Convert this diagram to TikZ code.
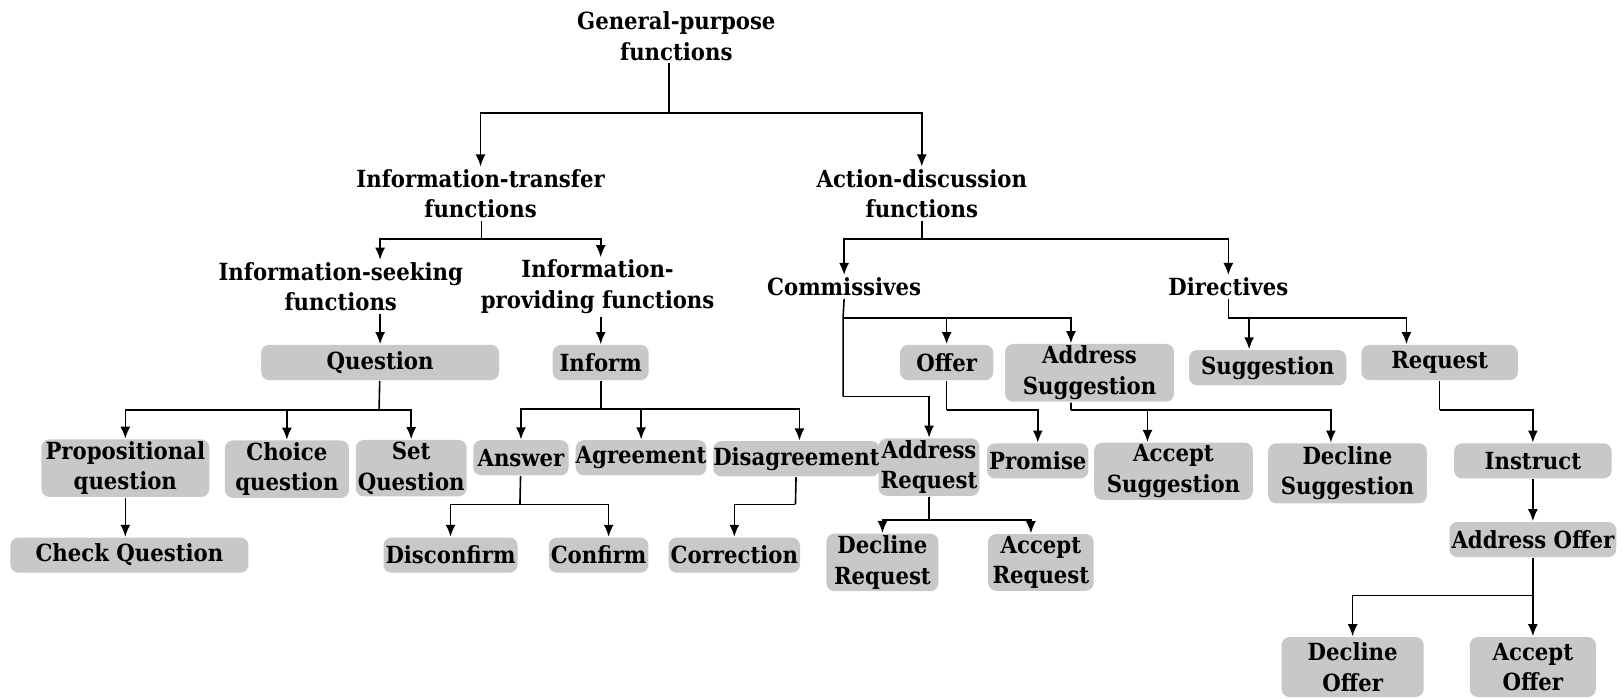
\documentclass[tikz,border=0pt]{standalone}
\usepackage{fontspec}
\setmainfont{DejaVu Serif Condensed}
\usetikzlibrary{arrows.meta}
\definecolor{boxgray}{RGB}{200,200,200}
\tikzset{
    lbl/.style={align=center, inner sep=1pt, font=\fontsize{11.8pt}{15.3pt}\selectfont\bfseries},
    gbox/.style={lbl, fill=boxgray, rounded corners=4pt, minimum height=17.6pt},
    >={Latex[length=6pt,width=5pt]},
}
\begin{document}
\begin{tikzpicture}[x=0.5179pt, y=-0.5179pt, line width=0.8pt]
        \useasboundingbox (0,0) rectangle (1568,674);
        % plain labels
        \node[lbl] (gp) at (653,35) {General-purpose\\functions};
        \node[lbl] (it) at (464,187) {Information-transfer\\functions};
        \node[lbl] (ad) at (890,187) {Action-discussion\\functions};
        \node[lbl] (is) at (329,277) {Information-seeking\\functions};
        \node[lbl] (ip) at (577,277) {Information-\\providing functions};
        \node[lbl] (com) at (815,277) {Commissives};
        \node[lbl] (dir) at (1186,277) {Directives};
        % grey boxes
        \node[gbox, minimum width=119pt] (question) at (367,350) {Question};
        \node[gbox, minimum width=48pt] (inform) at (580,350) {Inform};
        \node[gbox, minimum width=46.6pt] (offer) at (914,350) {Offer};
        \node[gbox, minimum width=84.4pt, minimum height=28.5pt] (addsug) at (1052,360) {Address\\Suggestion};
        \node[gbox, minimum width=78.7pt] (sugg) at (1224,355) {Suggestion};
        \node[gbox, minimum width=78.2pt] (request) at (1390,350) {Request};
        \node[gbox, minimum width=84pt, minimum height=26.4pt] (prop) at (121,452) {Propositional\\question};
        \node[gbox, minimum width=62pt, minimum height=27pt] (choice) at (277,453) {Choice\\question};
        \node[gbox, minimum width=46.6pt, minimum height=26.4pt] (setq) at (397,452) {Set\\Question};
        \node[gbox, minimum width=119pt] (checkq) at (125,536) {Check Question};
        \node[gbox, minimum width=47.7pt] (answer) at (503,442) {Answer};
        \node[gbox, minimum width=64pt, inner xsep=0pt] (agree) at (619,442) {Agreement};
        \node[gbox, minimum width=77pt, inner xsep=0pt] (disagree) at (769,443) {Disagreement};
        \node[gbox, minimum width=64.8pt] (disconf) at (435,536) {Disconfirm};
        \node[gbox, minimum width=48pt] (confirm) at (578,536) {Confirm};
        \node[gbox, minimum width=65pt] (correct) at (709,536) {Correction};
        \node[gbox, minimum width=45.6pt, minimum height=26.4pt] (addreq) at (897,451) {Address\\Request};
        \node[gbox, minimum width=48.7pt] (promise) at (1002,445) {Promise};
        \node[gbox, minimum width=79.3pt, minimum height=26pt] (accsug) at (1133,455) {Accept\\Suggestion};
        \node[gbox, minimum width=79.3pt, minimum height=30pt] (decsug) at (1301,457) {Decline\\Suggestion};
        \node[gbox, minimum width=78.7pt] (instruct) at (1480,445) {Instruct};
        \node[gbox, minimum width=78.7pt] (addoffer) at (1480,521) {Address Offer};
        \node[gbox, minimum width=56pt, minimum height=26pt] (decreq) at (852,543) {Decline\\Request};
        \node[gbox, minimum width=52.8pt, minimum height=26pt] (accreq) at (1005,543) {Accept\\Request};
        \node[gbox, minimum width=71pt, minimum height=30pt] (decoff) at (1306,644) {Decline\\Offer};
        \node[gbox, minimum width=63pt, minimum height=30pt] (accoff) at (1480,644) {Accept\\Offer};
        % top levels
        \coordinate (gpj) at (646,109);
        \draw (gp.south -| gpj) -- (gpj);
        \draw[->] (gpj) -| (it);
        \draw[->] (gpj) -| (ad);
        \coordinate (itj) at (465,231);
        \draw (it.south -| itj) -- (itj);
        \draw[->] (itj) -| (is.north -| question);
        \draw[->] (itj) -| (ip.north -| inform);
        \draw[->] (is.south -| question) -- (question);
        \draw[->] (ip.south -| inform) -- (inform);
        \coordinate (adj) at (890,231);
        \draw (ad.south) -- (adj);
        \draw[->] (adj) -| (com);
        \draw[->] (adj) -| (dir);
        % information-transfer side
        \coordinate (qj) at (366,396);
        \draw (question) -- (qj);
        \draw[->] (qj) -| (prop);
        \draw[->] (qj) -| (choice);
        \draw[->] (qj) -| (setq);
        \draw[->] (prop.south) -- (prop.south |- checkq.north);
        \coordinate (infj) at (580,395);
        \draw (inform) -- (infj);
        \draw[->] (infj) -| (answer);
        \draw[->] (infj) -| (agree);
        \draw[->] (infj) -| ([xshift=1.5pt]disagree.north);
        \coordinate (ansj) at (502,487);
        \draw (answer) -- (ansj);
        \draw[->] (ansj) -| (disconf);
        \draw[->] (ansj) -| ([xshift=5pt]confirm.north);
        \coordinate (disj) at (768,487);
        \draw (disagree) -- (disj);
        \draw[->] (disj) -| (correct);
        % action-discussion side
        \coordinate (comj) at (814,307);
        \coordinate (comk) at (814,383);
        \draw (com.south) -- (comj) -- (comk);
        \draw[->] (comj) -| (offer);
        \draw[->] (comj) -| ([xshift=-9.3pt]addsug.north);
        \draw[->] (comk) -| (addreq);
        \coordinate (dirj) at (1186,307);
        \draw (dir.south) -- (dirj);
        \draw[->] (dirj) -| ([xshift=-9.3pt]sugg.north);
        \draw[->] (dirj) -| ([xshift=-16.6pt]request.north);
        \coordinate (offj) at (914,396);
        \draw (offer) -- (offj);
        \draw[->] (offj) -| (promise);
        \coordinate (asj) at (1034,396);
        \draw ([xshift=-9.3pt]addsug.south) -- (asj);
        \draw[->] (asj) -| ([xshift=-13pt]accsug.north);
        \draw[->] (asj) -| ([xshift=-8.3pt]decsug.north);
        \coordinate (arj) at (897,502);
        \draw (addreq) -- (arj);
        \draw[->] (arj) -| (decreq);
        \draw[->] (arj) -| ([xshift=-5pt]accreq.north);
        \coordinate (reqj) at (1390,396);
        \draw (request) -- (reqj);
        \draw[->] (reqj) -| (instruct);
        \draw[->] (instruct) -- (addoffer);
        \coordinate (aoj) at (1480,575);
        \draw (addoffer) -- (aoj);
        \draw[->] (aoj) -| (decoff);
        \draw[->] (aoj) -| (accoff);
    \end{tikzpicture}
\end{document}
